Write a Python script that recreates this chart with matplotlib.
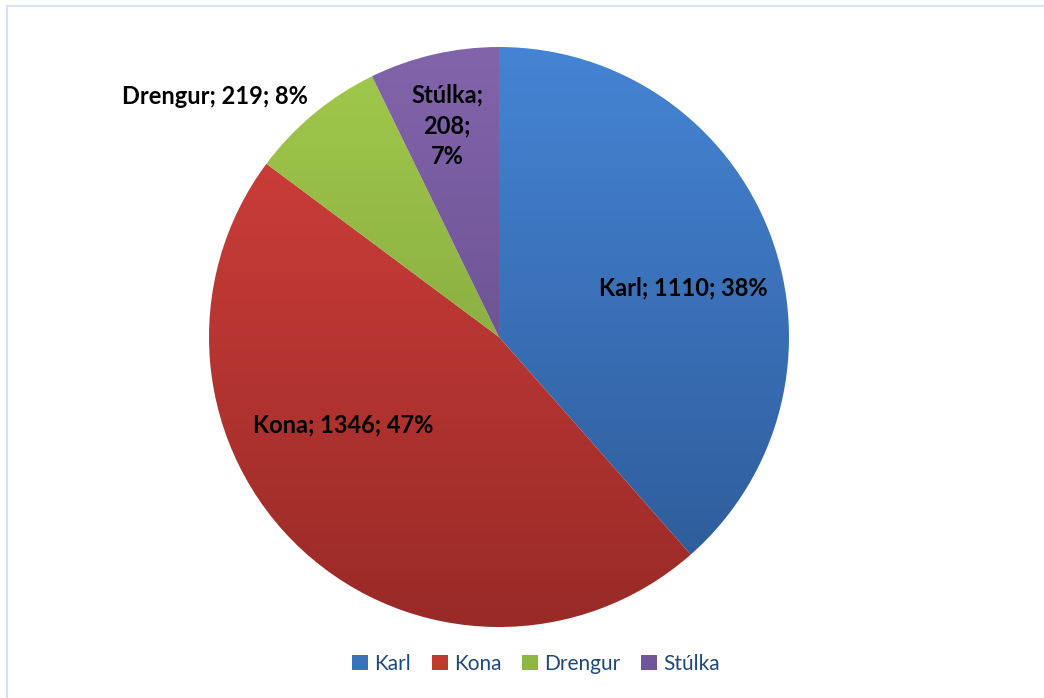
import matplotlib

matplotlib.use("Agg")
import matplotlib.pyplot as plt
import numpy as np
from matplotlib.colors import LinearSegmentedColormap
from matplotlib.patches import Rectangle

# data
categories = ["Karl", "Kona", "Drengur", "Stúlka"]
values = [1110, 1346, 219, 208]
percents = [38, 47, 8, 7]

# gradient colours (top, bottom) per slice
top_colors = ["#4584d4", "#d6413d", "#a2ca4b", "#8264ab"]
bot_colors = ["#2c5894", "#982a27", "#76963a", "#5b4580"]
legend_colors = ["#3b72bd", "#c0392f", "#8fb843", "#71559a"]

W, H = 1044, 698
fig = plt.figure(figsize=(W / 100, H / 100), dpi=100)
fig.patch.set_facecolor("white")
ax = fig.add_axes([0, 0, 1, 1])

# chart frame
ax.add_patch(Rectangle((7, -10), W + 20, H - 5.5 + 10, fill=False,
                       edgecolor="#d5e2f1", linewidth=1.5))

cx, cy, r = 499, H - 337, 290
wedges, _ = ax.pie(values, startangle=90, counterclock=False, radius=r,
                   center=(cx, cy), frame=True,
                   wedgeprops=dict(edgecolor="none", facecolor="none"))
ax.set_xlim(0, W)
ax.set_ylim(0, H)
ax.axis("off")

grad = np.linspace(1, 0, 256).reshape(-1, 1)
for w, c0, c1 in zip(wedges, top_colors, bot_colors):
    cmap = LinearSegmentedColormap.from_list("g", [c1, c0])
    im = ax.imshow(grad, cmap=cmap, extent=(cx - r, cx + r, cy - r, cy + r),
                   aspect="auto", zorder=1, origin="upper")
    im.set_clip_path(w)

font = ["Lato", "DejaVu Sans"]
lab_kw = dict(fontsize=17, fontweight="bold", color="black", family=font,
              ha="center", va="center", zorder=5, linespacing=1.42)
labels = [f"{c}; {v}; {p}%" for c, v, p in zip(categories, values, percents)]
ax.text(683, H - 288, labels[0], **lab_kw)
ax.text(343, H - 425, labels[1], **lab_kw)
ax.text(215, H - 96, labels[2], **lab_kw)
ax.text(447, H - 126, labels[3].replace("; ", ";\n"), **lab_kw)

# legend
handles = [Rectangle((0, 0), 1, 1, facecolor=c) for c in legend_colors]
leg = ax.legend(handles, categories, loc="center", bbox_to_anchor=(536 / W, 1 - 664 / H),
                ncol=4, frameon=False, handlelength=0.75, handleheight=0.75,
                handletextpad=0.3, columnspacing=1.0,
                prop=dict(family=font, size=15))
for t in leg.get_texts():
    t.set_color("#1f497d")

fig.savefig("out.png", dpi=100)
